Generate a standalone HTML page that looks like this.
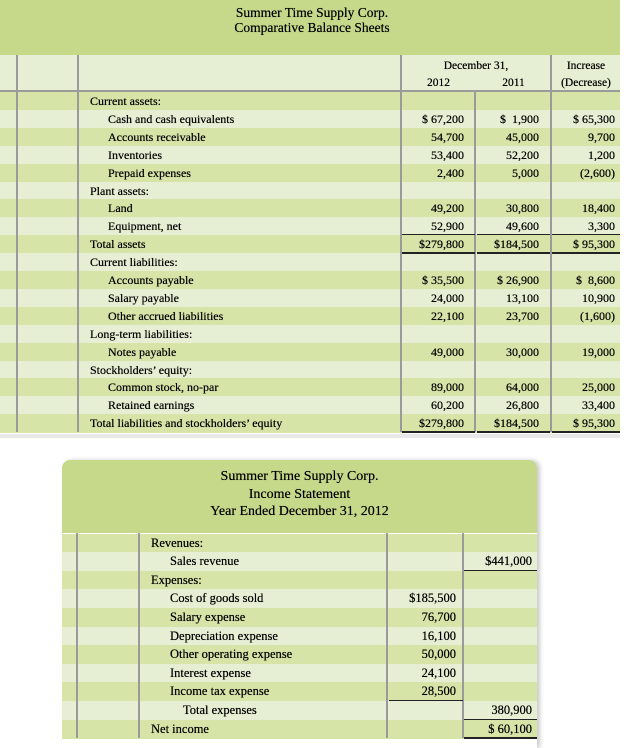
<!DOCTYPE html>
<html><head><meta charset="utf-8">
<style>
body{margin:0;width:624px;height:748px;background:#fff;position:relative;overflow:hidden;font-family:"Liberation Serif",serif;color:#000;}
.a{position:absolute;}
.t{position:absolute;font-size:12px;white-space:nowrap;line-height:18px;text-shadow:0 0 0.4px #000;}
.r{text-align:right;}
.vl{position:absolute;width:2px;background:#9a9a9a;}
.ul{position:absolute;height:1px;background:#222;}
</style></head><body>
<div id="bs">
  <div class="a" style="left:0;top:0;width:620px;height:55px;background:#c6d98a"></div>
  <div class="t" style="left:0;width:624px;top:5px;text-align:center;font-size:13.5px;line-height:15px">Summer Time Supply Corp.<br>Comparative Balance Sheets</div>
  <div class="a" style="left:0;top:55px;width:620px;height:36px;background:#e6efd3"></div>
  <div class="t" style="left:401px;width:150px;top:57px;text-align:center;font-size:11.5px">December 31,</div>
  <div class="t" style="left:401px;width:75px;top:74px;text-align:center;font-size:11.5px">2012</div>
  <div class="t" style="left:476px;width:75px;top:74px;text-align:center;font-size:11.5px">2011</div>
  <div class="t" style="left:551px;width:70px;top:57px;text-align:center;font-size:11.5px">Increase</div>
  <div class="t" style="left:551px;width:70px;top:74px;text-align:center;font-size:11.5px">(Decrease)</div>
  <div id="bsrows"></div>
</div>
<div id="is">
  <div class="a" style="left:62px;top:460px;width:475px;height:288px;box-shadow:3px 0 4px #ccc;border-radius:8px 8px 0 0;overflow:hidden">
    <div class="a" style="left:0;top:0;width:475px;height:73px;background:#c6d98a"></div>
  </div>
  <div class="t" style="left:62px;width:475px;top:468px;text-align:center;font-size:14px;line-height:17.5px">Summer Time Supply Corp.<br>Income Statement<br>Year Ended December 31, 2012</div>
  <div id="isrows"></div>
</div>
<script>
const bsLabels=["Current assets:","Cash and cash equivalents","Accounts receivable","Inventories","Prepaid expenses","Plant assets:","Land","Equipment, net","Total assets","Current liabilities:","Accounts payable","Salary payable","Other accrued liabilities","Long-term liabilities:","Notes payable","Stockholders' equity:","Common stock, no-par","Retained earnings","Total liabilities and stockholders' equity"];
const bsIndent=[0,1,1,1,1,0,1,1,0,0,1,1,1,0,1,0,1,1,0];
const bs2012=["","$ 67,200","54,700","53,400","2,400","","49,200","52,900","$279,800","","$ 35,500","24,000","22,100","","49,000","","89,000","60,200","$279,800"];
const bs2011=["","$  1,900","45,000","52,200","5,000","","30,800","49,600","$184,500","","$ 26,900","13,100","23,700","","30,000","","64,000","26,800","$184,500"];
const bsChange=["","$ 65,300","9,700","1,200","(2,600)","","18,400","3,300","$ 95,300","","$  8,600","10,900","(1,600)","","19,000","","25,000","33,400","$ 95,300"];
const isLabels=["Revenues:","Sales revenue","Expenses:","Cost of goods sold","Salary expense","Depreciation expense","Other operating expense","Interest expense","Income tax expense","Total expenses","Net income"];
const isIndent=[0,1,0,1,1,1,1,1,1,2,0];
const isCol1=["","","","$185,500","76,700","16,100","50,000","24,100","28,500","",""];
const isCol2=["","$441,000","","","","","","","","380,900","$ 60,100"];

function mk(parent,cls,style,text){const d=document.createElement('div');d.className=cls;d.style.cssText=style;if(text!==undefined)d.textContent=text;parent.appendChild(d);return d;}
const bsr=document.getElementById('bsrows');
const h=17.9,top0=92;
for(let i=0;i<bsLabels.length;i++){
  const y=top0+i*h;
  const bg=mk(bsr,'a',`left:0;top:${y}px;width:620px;height:${h+0.5}px;background:${i%2?'#e6efd3':'#d6e4a8'}`);
  
  
  const lb=mk(bsr,'t',`left:${bsIndent[i]?108:90}px;top:${y}px`,bsLabels[i].replace("'","’"));
  
  
  const c1=mk(bsr,'t r',`left:401px;width:63px;top:${y}px;white-space:pre`,bs2012[i]);
  
  
  const c2=mk(bsr,'t r',`left:476px;width:63px;top:${y}px;white-space:pre`,bs2011[i]);
  
  
  const c3=mk(bsr,'t r',`left:551px;width:64px;top:${y}px;white-space:pre`,bsChange[i]);
  
  
}
const bsBottom=top0+bsLabels.length*h;
[[17,55],[78,55],[401,55],[551,55],[475,91]].forEach(([x,t])=>{const v=mk(bsr,'vl',`left:${x-1}px;top:${t}px;height:${bsBottom-t}px`);

});
const hl=mk(bsr,'a',`left:0;top:90px;width:620px;height:2px;background:#9a9a9a`);


[[8,1],[9,2],[19,2]].forEach(([row,n])=>{const y=top0+row*h-1;[[402,73],[477,73],[552,68]].forEach(([x,w])=>{
  const u=mk(bsr,'ul',`left:${x}px;top:${y}px;width:${w}px;height:${n==2?2:1}px`);
  
  });});
const sh=mk(bsr,'a',`left:0;top:${bsBottom+2}px;width:620px;height:4px;background:#e8e8e8`);



const isr=document.getElementById('isrows');
const ih=18.6,itop=533.5;
for(let i=0;i<isLabels.length;i++){
  const y=itop+i*ih;
  const bg=mk(isr,'a',`left:62px;top:${y}px;width:475px;height:${ih+0.5}px;background:${i%2?'#e6efd3':'#d6e4a8'}`);
  
  
  const lb=mk(isr,'t',`left:${[151,170,183][isIndent[i]]}px;top:${y}px;font-size:12.5px;line-height:19px`,isLabels[i]);
  
  
  const c1=mk(isr,'t r',`left:387px;width:69px;top:${y}px;font-size:12.5px;line-height:19px;white-space:pre`,isCol1[i]);
  
  
  const c2=mk(isr,'t r',`left:463px;width:69px;top:${y}px;font-size:12.5px;line-height:19px;white-space:pre`,isCol2[i]);
  
  
}
const isBottom=itop+isLabels.length*ih;
[77,139,387,463].forEach(x=>{const v=mk(isr,'vl',`left:${x-1}px;top:533px;height:${isBottom-533}px`);

});
[[2,464,73,1],[9,389,74,1],[10,464,73,1],[11,464,73,2]].forEach(([row,x,w,n])=>{
  const u=mk(isr,'ul',`left:${x}px;top:${itop+row*ih-1}px;width:${w}px;height:${n}px`);
  
  });
</script>
</body></html>
